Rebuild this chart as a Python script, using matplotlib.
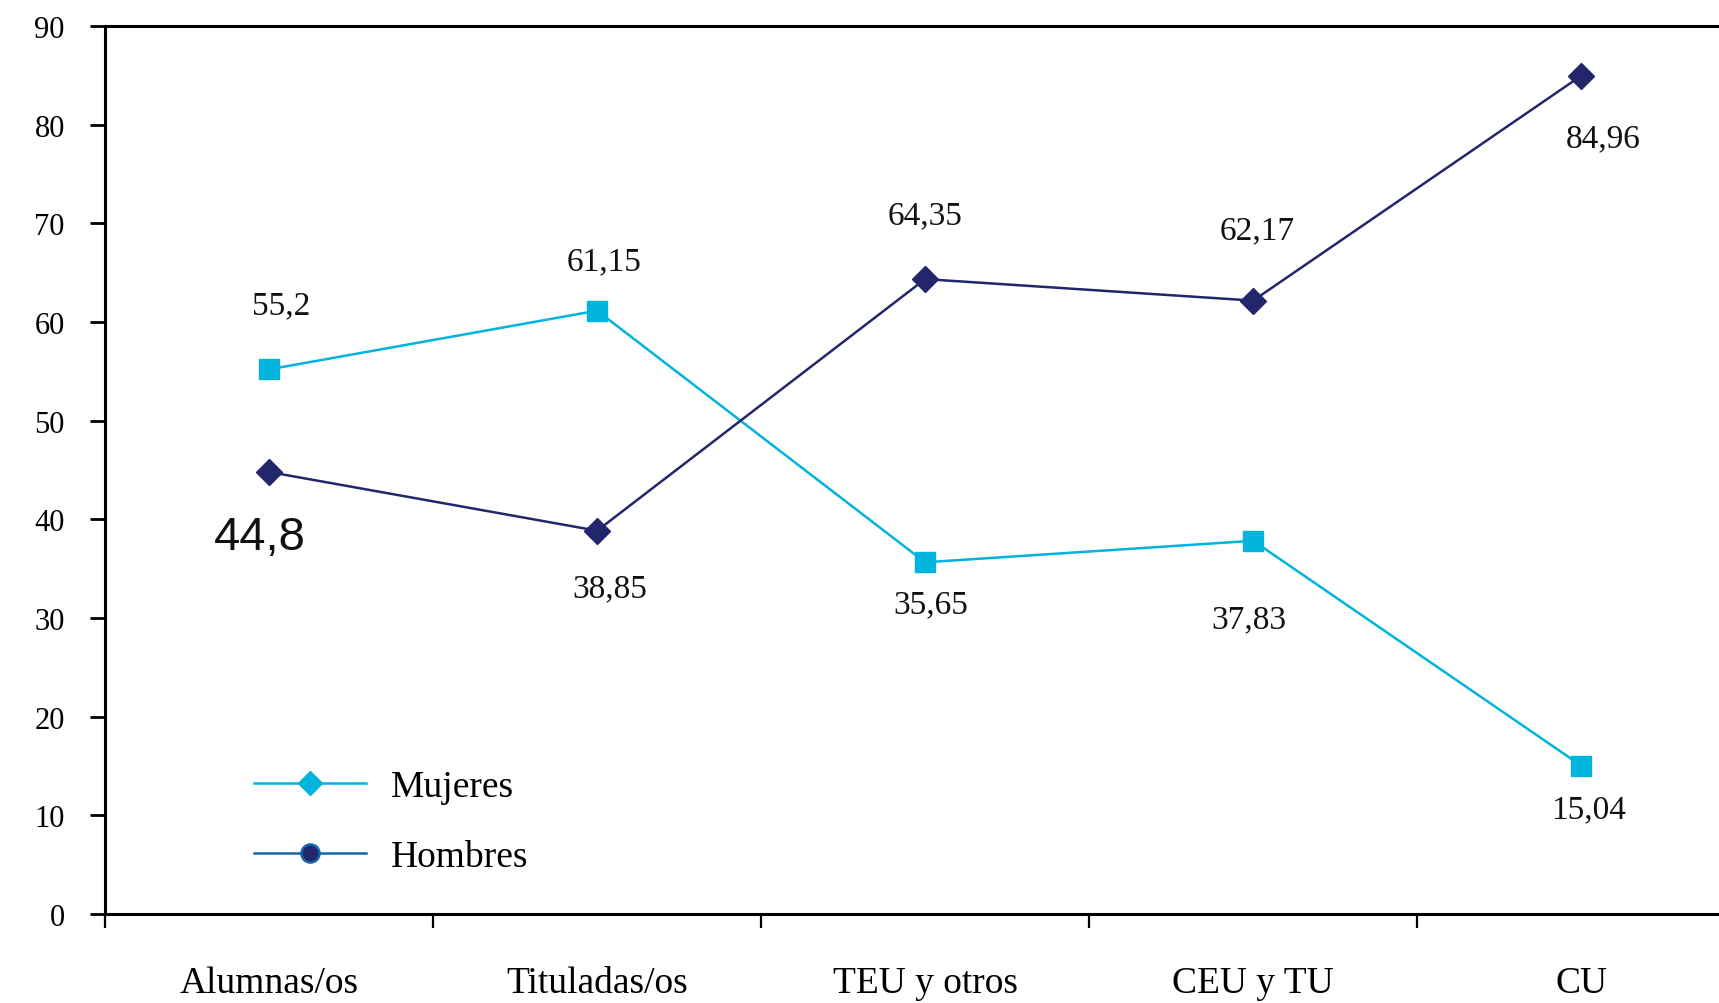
import matplotlib
matplotlib.use('Agg')
import matplotlib.pyplot as plt
from matplotlib.lines import Line2D
from matplotlib.ticker import FixedLocator, NullFormatter

# Data
categories = ['Alumnas/os', 'Tituladas/os', 'TEU y otros', 'CEU y TU', 'CU']
mujeres = [55.2, 61.15, 35.65, 37.83, 15.04]
hombres = [44.8, 38.85, 64.35, 62.17, 84.96]

mujeres_labels = ['55,2', '61,15', '35,65', '37,83', '15,04']
hombres_labels = ['44,8', '38,85', '64,35', '62,17', '84,96']

# label offsets (points) relative to each marker
mujeres_offsets = [(9, 46), (5, 36), (4, -30), (-3, -56), (5, -31)]
hombres_offsets = [(-7, -47), (9, -41), (0, 46), (3, 51), (16, -45)]

c_muj = '#00B4DC'
c_hom = '#23266B'
c_hom_leg = '#1565A8'

plt.rcParams['font.family'] = ['Liberation Serif', 'DejaVu Serif']

fig = plt.figure(figsize=(17.19, 10.04), dpi=100)
ax = fig.add_axes([0.0611, 0.0886, 0.9389, 0.8845])

x = list(range(len(categories)))
ax.plot(x, mujeres, color=c_muj, lw=1.8, marker='s', ms=14, mec=c_muj, zorder=3)
ax.plot(x, hombres, color=c_hom, lw=1.8, marker='D', ms=13, mec=c_hom, zorder=3)

for xi, v, s, off in zip(x, mujeres, mujeres_labels, mujeres_offsets):
    ax.annotate(s, (xi, v), xytext=off, textcoords='offset points',
                ha='center', va='center', fontsize=24, color='#111111')
for i, (xi, v, s, off) in enumerate(zip(x, hombres, hombres_labels, hombres_offsets)):
    if i == 0:
        # this one is set in a different (sans) font in the original
        ax.annotate(s, (xi, v), xytext=off, textcoords='offset points',
                    ha='center', va='center', fontsize=34, color='#111111',
                    family=['Liberation Sans', 'DejaVu Sans'])
    else:
        ax.annotate(s, (xi, v), xytext=off, textcoords='offset points',
                    ha='center', va='center', fontsize=24, color='#111111')

ax.set_xlim(-0.5, 4.42)
ax.set_ylim(0, 90)
ax.set_yticks(range(0, 91, 10))
ax.tick_params(axis='y', length=11, width=2, pad=18, labelsize=22)

ax.set_xticks(x)
ax.set_xticklabels(categories, fontsize=27)
ax.tick_params(axis='x', which='major', length=0, pad=37)
ax.xaxis.set_minor_locator(FixedLocator([-0.5, 0.5, 1.5, 2.5, 3.5]))
ax.xaxis.set_minor_formatter(NullFormatter())
ax.tick_params(axis='x', which='minor', length=10, width=1.6)

for side in ['left', 'bottom', 'top']:
    ax.spines[side].set_linewidth(2.2)
ax.spines['right'].set_visible(False)

handles = [
    Line2D([], [], color=c_muj, lw=1.8, marker='D', ms=12, mec=c_muj),
    Line2D([], [], color=c_hom_leg, lw=1.8, marker='o', ms=13, mfc=c_hom, mec=c_hom_leg, mew=1.8),
]
ax.legend(handles, ['Mujeres', 'Hombres'], loc='upper left', bbox_to_anchor=(0.092, 0.163),
          frameon=False, fontsize=27, handlelength=3.0, handletextpad=0.65,
          labelspacing=0.95, borderpad=0, borderaxespad=0)

fig.savefig('out.png', dpi=100)
